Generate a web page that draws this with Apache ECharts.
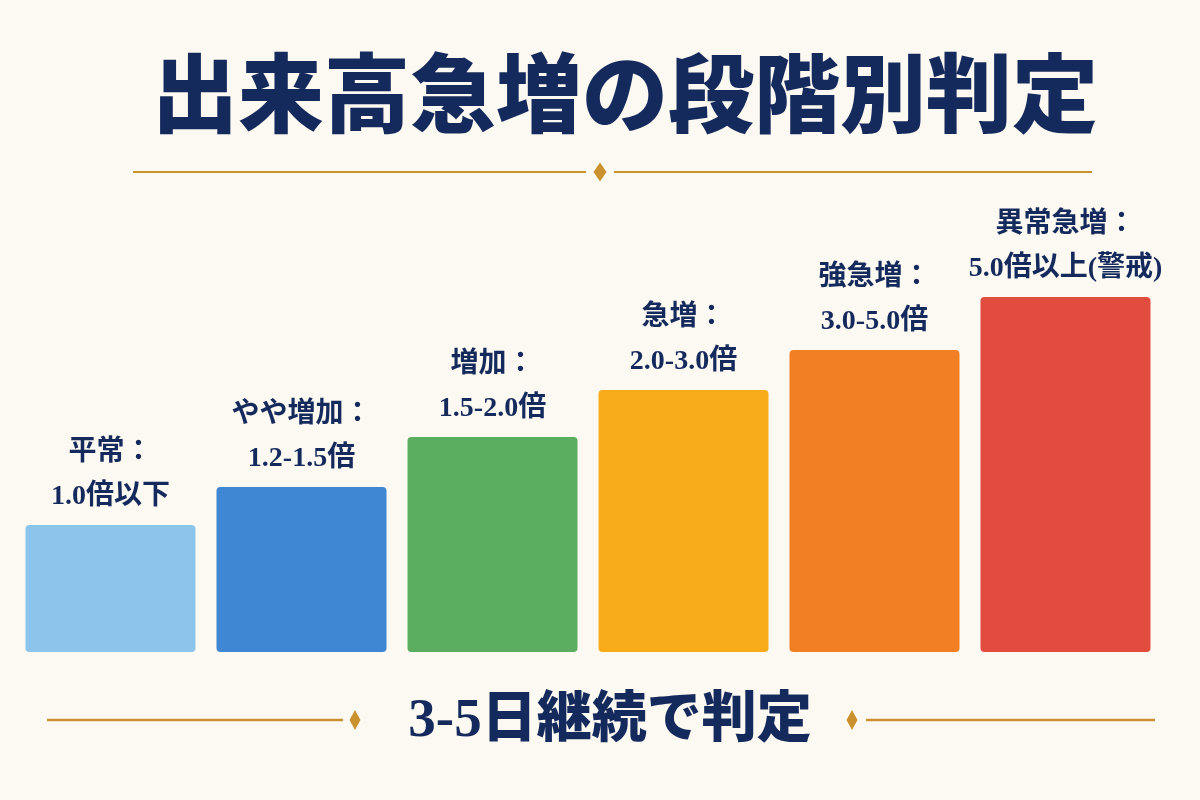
<!DOCTYPE html>
<html>
<head>
<meta charset="utf-8">
<script src="https://cdn.jsdelivr.net/npm/echarts@6/dist/echarts.min.js"></script>
<style>
html,body{margin:0;padding:0;background:#FCF9F2;}
#chart{width:1200px;height:800px;}
</style>
</head>
<body>
<div id="chart"></div>
<script>
const categories = ['平常：', 'やや増加：', '増加：', '急増：', '強急増：', '異常急増：'];
const ranges = ['1.0倍以下', '1.2-1.5倍', '1.5-2.0倍', '2.0-3.0倍', '3.0-5.0倍', '5.0倍以上(警戒)'];
const levels = [127, 165, 215, 262, 302, 355];
const colors = ['#8CC5EC', '#3F86D3', '#5BAD5F', '#F7AB19', '#F27F24', '#E14C3F'];
const titleText = '出来高急増の段階別判定';
const footText = '3-5日継続で判定';

const NAVY = '#14295C';
const GOLD = '#C9922E';
const FONT = "'Liberation Serif', 'Noto Sans CJK JP', serif";

const chart = echarts.init(document.getElementById('chart'));

function diamond(cx, cy, w, h) {
  return {
    type: 'polygon',
    shape: { points: [[cx, cy - h / 2], [cx + w / 2, cy], [cx, cy + h / 2], [cx - w / 2, cy]] },
    style: { fill: GOLD }
  };
}
function line(x1, x2, y, lw) {
  return { type: 'line', shape: { x1: x1, y1: y, x2: x2, y2: y }, style: { stroke: GOLD, lineWidth: lw } };
}

chart.setOption({
  backgroundColor: '#FCF9F2',
  animation: false,
  grid: { left: 15, right: 39, top: 252, bottom: 148 },
  xAxis: {
    type: 'category',
    data: categories,
    show: false
  },
  yAxis: { type: 'value', min: 0, max: 400, show: false },
  series: [{
    type: 'bar',
    barWidth: 170,
    data: levels.map((v, i) => ({ value: v, itemStyle: { color: colors[i] } })),
    itemStyle: { borderRadius: 4 },
    label: {
      show: true,
      position: 'top',
      distance: 6,
      formatter: p => '{a|' + categories[p.dataIndex] + '}\n{b|' + ranges[p.dataIndex] + '}',
      rich: {
        a: { fontFamily: FONT, fontSize: 28, fontWeight: 'bold', color: NAVY, lineHeight: 44 },
        b: { fontFamily: FONT, fontSize: 28, fontWeight: 'bold', color: NAVY, lineHeight: 44 }
      }
    }
  }],
  graphic: [
    {
      type: 'text',
      x: 625, y: 104,
      style: {
        text: titleText,
        fontFamily: FONT, fontSize: 86, fontWeight: 900, fill: NAVY,
        align: 'center', verticalAlign: 'middle'
      }
    },
    line(133, 586, 172, 2),
    line(614, 1092, 172, 2),
    diamond(600, 172, 13, 19),
    line(47, 343, 720, 2.5),
    diamond(355, 720, 11, 20),
    line(866, 1155, 720, 2.5),
    diamond(852, 720, 11, 20),
    {
      type: 'text',
      x: 610, y: 722,
      style: {
        text: footText,
        fontFamily: FONT, fontSize: 55, fontWeight: 900, fill: NAVY,
        align: 'center', verticalAlign: 'middle'
      }
    }
  ]
});
</script>
</body>
</html>
